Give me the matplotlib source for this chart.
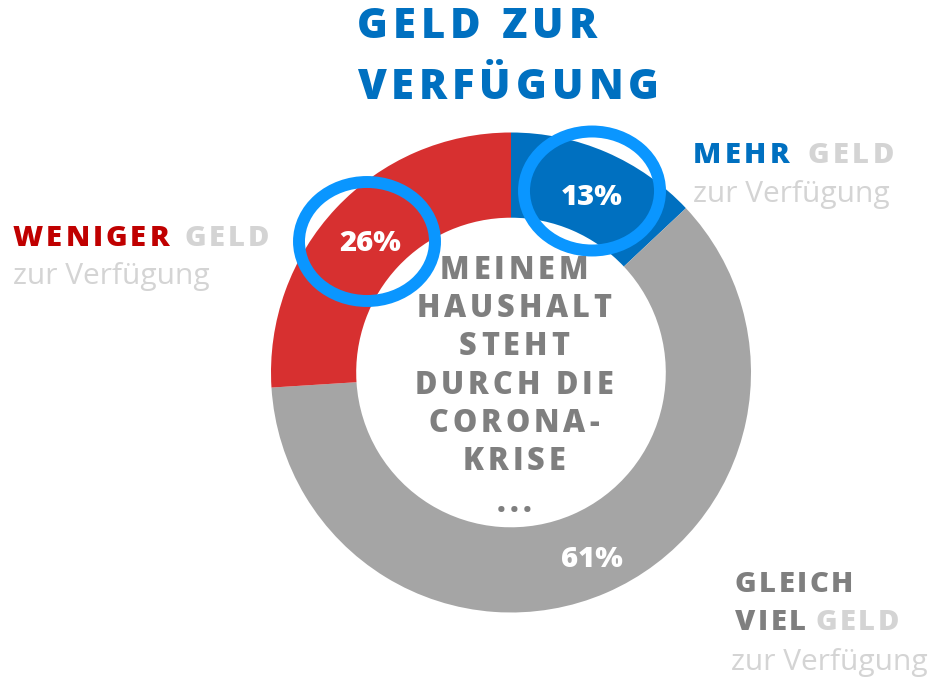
import matplotlib.pyplot as plt
from matplotlib.patches import Ellipse

W, H = 932, 677
FONT = ["Open Sans", "DejaVu Sans"]

# data
categories = ["MEHR", "GLEICH VIEL", "WENIGER"]
shares = [13, 61, 26]
colors = ["#0070C0", "#A5A5A5", "#D73030"]

title_lines = ["GELD ZUR", "VERFÜGUNG"]
center_lines = ["MEINEM", "HAUSHALT", "STEHT", "DURCH DIE", "CORONA-", "KRISE", "..."]

fig = plt.figure(figsize=(W / 100, H / 100), dpi=100)
ax = fig.add_axes([0, 0, 1, 1])
renderer = fig.canvas.get_renderer()

cx, cy, R = 511, 372.5, 240

wedges, _, pct = ax.pie(
    shares, colors=colors, startangle=90, counterclock=False,
    radius=R, center=(cx, H - cy),
    wedgeprops=dict(width=0.355 * R, edgecolor="none"),
    autopct=lambda p: f"{p:.0f}%", pctdistance=0.82,
    textprops=dict(color="white", fontsize=21, fontweight=800, family=FONT))
# nudge labels onto the cap-height centre
for t in pct:
    x, y = t.get_position()
    t.set_position((x + 3, y - 6))

ax.set_xlim(0, W)
ax.set_ylim(0, H)
ax.axis("off")

# highlight rings
for ex, ey in [(592, 191), (367, 241.5)]:
    ax.add_patch(Ellipse((ex, H - ey), 136, 119, fill=False,
                         edgecolor="#0A96FF", lw=8.6))


def spaced(x, base, s, size, color, weight=800, gap=0.0, ha="left"):
    widths = []
    for ch in s:
        if ch == " ":
            widths.append(size / 0.72 * 0.26)
        else:
            t = ax.text(0, 0, ch, fontsize=size, fontweight=weight, family=FONT)
            widths.append(t.get_window_extent(renderer).width)
            t.remove()
    total = sum(widths) + gap * (len(s) - 1)
    if ha == "center":
        x -= total / 2
    for ch, w in zip(s, widths):
        if ch != " ":
            ax.text(x, H - base, ch, fontsize=size, fontweight=weight,
                    family=FONT, color=color, ha="left", va="baseline")
        x += w + gap
    return x


def plain(x, base, s, size, color):
    ax.text(x, H - base, s, fontsize=size, family=FONT, color=color,
            ha="left", va="baseline")


BLUE, RED, GREY, LIGHT = "#0070C0", "#C00000", "#7F7F7F", "#D4D4D4"

# title
spaced(357, 38, title_lines[0], 30, BLUE, gap=5)
spaced(357, 99, title_lines[1], 30, BLUE, gap=5)

# segment labels
end = spaced(693, 163, categories[0], 21, BLUE, gap=3.5)
spaced(end + 14, 163, "GELD", 21, LIGHT, gap=3.5)
plain(693, 202, "zur Verfügung", 21.5, LIGHT)

end = spaced(13, 246, categories[2], 21, RED, gap=3)
spaced(end + 12, 246, "GELD", 21, LIGHT, gap=3)
plain(13, 284, "zur Verfügung", 21.5, LIGHT)

spaced(735, 592, "GLEICH", 21, GREY, gap=2.5)
end = spaced(735, 630, "VIEL", 21, GREY, gap=2.5)
spaced(end + 7, 630, "GELD", 21, LIGHT, gap=2.5)
plain(731, 670, "zur Verfügung", 21.5, LIGHT)

# center text
for line, base in zip(center_lines, [279, 317, 355, 394, 432, 470, 512]):
    spaced(514, base, line, 22, GREY, gap=4, ha="center")

fig.savefig("out.png", dpi=100)
